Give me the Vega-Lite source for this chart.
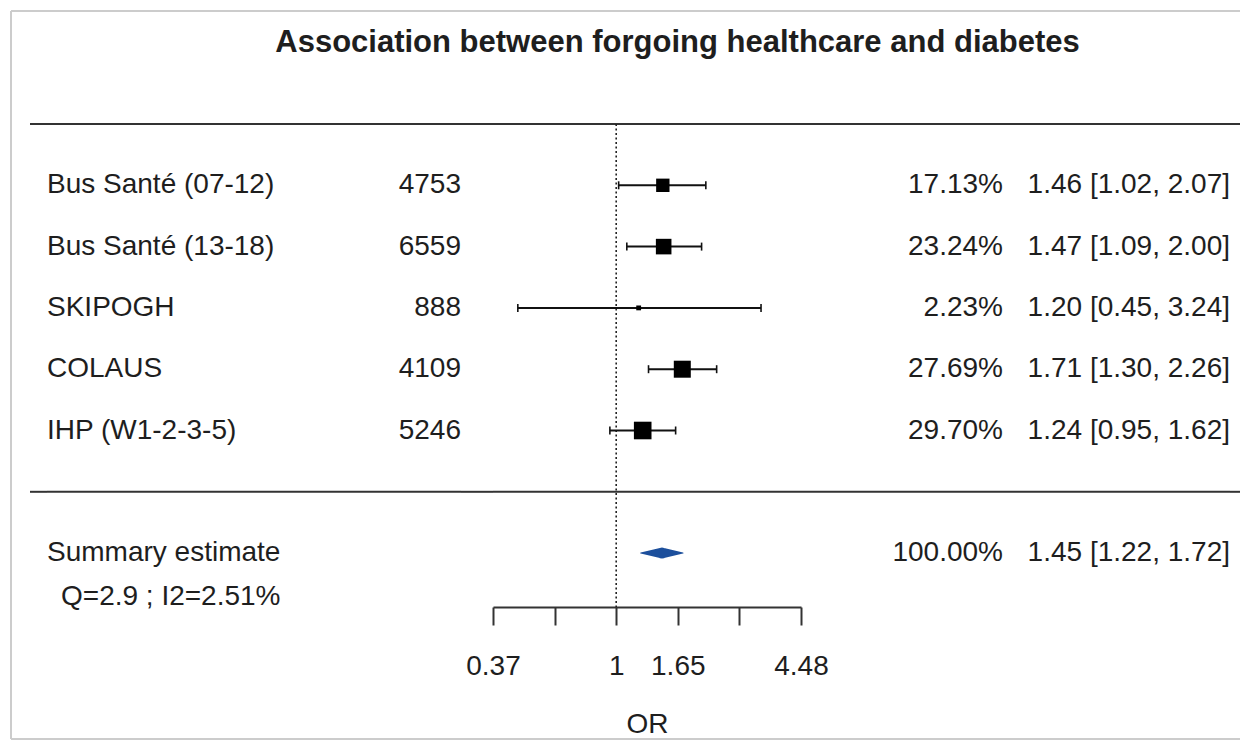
{
  "$schema": "https://vega.github.io/schema/vega-lite/v6.json",
  "autosize": {"type": "pad"},
  "padding": {"left": 10, "top": 10, "right": 0, "bottom": 0},
  "background": "white",
  "config": {
    "view": {"stroke": null},
    "font": "Liberation Sans",
    "text": {"font": "Liberation Sans", "fontSize": 28, "color": "#1e1e1e", "baseline": "middle"},
    "concat": {"spacing": 0}
  },
  "title": {
    "text": "Association between forgoing healthcare and diabetes",
    "font": "Liberation Sans",
    "fontSize": 31,
    "fontWeight": "bold",
    "color": "#1e1e1e",
    "anchor": "middle",
    "offset": -49,
    "dx": 52
  },
  "datasets": {
    "blank": [{}],
    "studies": [
      {"row": 1, "study": "Bus Santé (07-12)", "n": 4753, "weight": 0.1713, "or": 1.46, "lo": 1.02, "hi": 2.07, "ci": "1.46 [1.02, 2.07]"},
      {"row": 2, "study": "Bus Santé (13-18)", "n": 6559, "weight": 0.2324, "or": 1.47, "lo": 1.09, "hi": 2.00, "ci": "1.47 [1.09, 2.00]"},
      {"row": 3, "study": "SKIPOGH", "n": 888, "weight": 0.0223, "or": 1.20, "lo": 0.45, "hi": 3.24, "ci": "1.20 [0.45, 3.24]"},
      {"row": 4, "study": "COLAUS", "n": 4109, "weight": 0.2769, "or": 1.71, "lo": 1.30, "hi": 2.26, "ci": "1.71 [1.30, 2.26]"},
      {"row": 5, "study": "IHP (W1-2-3-5)", "n": 5246, "weight": 0.2970, "or": 1.24, "lo": 0.95, "hi": 1.62, "ci": "1.24 [0.95, 1.62]"}
    ],
    "summary": [
      {"row": 7, "study": "Summary estimate", "heterogeneity": "Q=2.9 ; I2=2.51%", "weight": 1.0, "or": 1.45, "lo": 1.22, "hi": 1.72, "ci": "1.45 [1.22, 1.72]"}
    ]
  },
  "bounds": "flush",
  "spacing": 0,
  "resolve": {"scale": {"x": "independent", "y": "independent"}},
  "hconcat": [
    {
      "width": 19, "height": 728,
      "data": {"name": "blank"},
      "layer": [
        {"mark": {"type": "rule", "color": "#cccccc", "strokeWidth": 2},
         "encoding": {"x": {"datum": "edge", "type": "nominal", "scale": {"type": "point", "domain": ["edge"], "padding": 0, "align": 0}, "axis": null}}},
        {"mark": {"type": "rule", "color": "#cccccc", "strokeWidth": 2},
         "encoding": {"y": {"datum": -1.8434, "type": "quantitative", "scale": {"domain": [-1.8434, 10.0326], "reverse": true, "nice": false, "zero": false}, "axis": null}}},
        {"mark": {"type": "rule", "color": "#cccccc", "strokeWidth": 2},
         "encoding": {"y": {"datum": 10.0326, "type": "quantitative", "scale": {"domain": [-1.8434, 10.0326], "reverse": true, "nice": false, "zero": false}, "axis": null}}}
      ]
    },
    {
      "width": 17, "height": 728,
      "data": {"name": "blank"},
      "layer": [
        {"mark": {"type": "rule", "color": "#cccccc", "strokeWidth": 2},
         "encoding": {"y": {"datum": -1.8434, "type": "quantitative", "scale": {"domain": [-1.8434, 10.0326], "reverse": true, "nice": false, "zero": false}, "axis": null}}},
        {"mark": {"type": "rule", "color": "#cccccc", "strokeWidth": 2},
         "encoding": {"y": {"datum": 10.0326, "type": "quantitative", "scale": {"domain": [-1.8434, 10.0326], "reverse": true, "nice": false, "zero": false}, "axis": null}}},
        {"mark": {"type": "rule", "color": "#333333", "strokeWidth": 2},
         "encoding": {"y": {"datum": 0, "type": "quantitative", "scale": {"domain": [-1.8434, 10.0326], "reverse": true, "nice": false, "zero": false}, "axis": null}}},
        {"mark": {"type": "rule", "color": "#333333", "strokeWidth": 2},
         "encoding": {"y": {"datum": 6, "type": "quantitative", "scale": {"domain": [-1.8434, 10.0326], "reverse": true, "nice": false, "zero": false}, "axis": null}}}
      ]
    },
    {
      "width": 414, "height": 728,
      "layer": [
        {"data": {"name": "blank"}, "mark": {"type": "rule", "color": "#cccccc", "strokeWidth": 2},
         "encoding": {"y": {"datum": -1.8434, "type": "quantitative", "scale": {"domain": [-1.8434, 10.0326], "reverse": true, "nice": false, "zero": false}, "axis": null}}},
        {"data": {"name": "blank"}, "mark": {"type": "rule", "color": "#cccccc", "strokeWidth": 2},
         "encoding": {"y": {"datum": 10.0326, "type": "quantitative", "scale": {"domain": [-1.8434, 10.0326], "reverse": true, "nice": false, "zero": false}, "axis": null}}},
        {"data": {"name": "blank"}, "mark": {"type": "rule", "color": "#333333", "strokeWidth": 2},
         "encoding": {"y": {"datum": 0, "type": "quantitative", "scale": {"domain": [-1.8434, 10.0326], "reverse": true, "nice": false, "zero": false}, "axis": null}}},
        {"data": {"name": "blank"}, "mark": {"type": "rule", "color": "#333333", "strokeWidth": 2},
         "encoding": {"y": {"datum": 6, "type": "quantitative", "scale": {"domain": [-1.8434, 10.0326], "reverse": true, "nice": false, "zero": false}, "axis": null}}},
        {"data": {"name": "studies"}, "mark": {"type": "text", "align": "left"},
         "encoding": {
           "x": {"datum": "Study", "type": "nominal", "scale": {"type": "point", "domain": ["Study", "N"], "padding": 0}, "axis": null},
           "y": {"field": "row", "type": "quantitative", "scale": {"domain": [-1.8434, 10.0326], "reverse": true, "nice": false, "zero": false}, "axis": null},
           "text": {"field": "study", "type": "nominal"}}},
        {"data": {"name": "studies"}, "mark": {"type": "text", "align": "right"},
         "encoding": {
           "x": {"datum": "N", "type": "nominal", "scale": {"type": "point", "domain": ["Study", "N"], "padding": 0}, "axis": null},
           "y": {"field": "row", "type": "quantitative", "scale": {"domain": [-1.8434, 10.0326], "reverse": true, "nice": false, "zero": false}, "axis": null},
           "text": {"field": "n", "type": "quantitative", "format": "d"}}},
        {"data": {"name": "summary"}, "mark": {"type": "text", "align": "left"},
         "encoding": {
           "x": {"datum": "Study", "type": "nominal", "scale": {"type": "point", "domain": ["Study", "N"], "padding": 0}, "axis": null},
           "y": {"field": "row", "type": "quantitative", "scale": {"domain": [-1.8434, 10.0326], "reverse": true, "nice": false, "zero": false}, "axis": null},
           "text": {"field": "study", "type": "nominal"}}},
        {"data": {"name": "summary"}, "mark": {"type": "text", "align": "left", "dx": 14, "dy": 44},
         "encoding": {
           "x": {"datum": "Study", "type": "nominal", "scale": {"type": "point", "domain": ["Study", "N"], "padding": 0}, "axis": null},
           "y": {"field": "row", "type": "quantitative", "scale": {"domain": [-1.8434, 10.0326], "reverse": true, "nice": false, "zero": false}, "axis": null},
           "text": {"field": "heterogeneity", "type": "nominal"}}}
      ]
    },
    {
      "width": 32, "height": 728,
      "data": {"name": "blank"},
      "layer": [
        {"mark": {"type": "rule", "color": "#cccccc", "strokeWidth": 2},
         "encoding": {"y": {"datum": -1.8434, "type": "quantitative", "scale": {"domain": [-1.8434, 10.0326], "reverse": true, "nice": false, "zero": false}, "axis": null}}},
        {"mark": {"type": "rule", "color": "#cccccc", "strokeWidth": 2},
         "encoding": {"y": {"datum": 10.0326, "type": "quantitative", "scale": {"domain": [-1.8434, 10.0326], "reverse": true, "nice": false, "zero": false}, "axis": null}}},
        {"mark": {"type": "rule", "color": "#333333", "strokeWidth": 2},
         "encoding": {"y": {"datum": 0, "type": "quantitative", "scale": {"domain": [-1.8434, 10.0326], "reverse": true, "nice": false, "zero": false}, "axis": null}}},
        {"mark": {"type": "rule", "color": "#333333", "strokeWidth": 2},
         "encoding": {"y": {"datum": 6, "type": "quantitative", "scale": {"domain": [-1.8434, 10.0326], "reverse": true, "nice": false, "zero": false}, "axis": null}}}
      ]
    },
    {
      "width": 308, "height": 728,
      "layer": [
        {"data": {"name": "blank"}, "mark": {"type": "rule", "color": "#cccccc", "strokeWidth": 2},
         "encoding": {"y": {"datum": -1.8434, "type": "quantitative", "scale": {"domain": [-1.8434, 10.0326], "reverse": true, "nice": false, "zero": false}, "axis": null}}},
        {"data": {"name": "blank"}, "mark": {"type": "rule", "color": "#cccccc", "strokeWidth": 2},
         "encoding": {"y": {"datum": 10.0326, "type": "quantitative", "scale": {"domain": [-1.8434, 10.0326], "reverse": true, "nice": false, "zero": false}, "axis": null}}},
        {"data": {"name": "blank"}, "mark": {"type": "rule", "color": "#333333", "strokeWidth": 2},
         "encoding": {"y": {"datum": 0, "type": "quantitative", "scale": {"domain": [-1.8434, 10.0326], "reverse": true, "nice": false, "zero": false}, "axis": null}}},
        {"data": {"name": "blank"}, "mark": {"type": "rule", "color": "#333333", "strokeWidth": 2},
         "encoding": {"y": {"datum": 6, "type": "quantitative", "scale": {"domain": [-1.8434, 10.0326], "reverse": true, "nice": false, "zero": false}, "axis": null}}},
        {"data": {"name": "blank"}, "mark": {"type": "rule", "color": "#222222", "strokeWidth": 1.6, "strokeDash": [2, 2.5]},
         "encoding": {
           "x": {"datum": 1, "type": "quantitative", "scale": {"type": "log", "domain": [0.367879, 4.481689], "nice": false, "zero": false}},
           "y": {"datum": 0, "type": "quantitative", "scale": {"domain": [-1.8434, 10.0326], "reverse": true, "nice": false, "zero": false}, "axis": null},
           "y2": {"datum": 7.88}}},
        {"data": {"name": "studies"}, "mark": {"type": "rule", "color": "#111111", "strokeWidth": 2},
         "encoding": {
           "x": {"field": "lo", "type": "quantitative", "scale": {"type": "log", "domain": [0.367879, 4.481689], "nice": false, "zero": false},
                 "axis": {"values": [0.367879, 0.606531, 1, 1.648721, 2.718282, 4.481689],
                          "labelExpr": "abs(datum.value-0.606531)<0.001 || abs(datum.value-2.718282)<0.001 ? '' : format(datum.value, '.2~f')",
                          "orient": "bottom", "offset": -132, "grid": false,
                          "domainColor": "#333333", "domainWidth": 2, "tickColor": "#333333", "tickWidth": 2, "tickSize": 18,
                          "labelFont": "Liberation Sans", "labelFontSize": 28, "labelColor": "#1e1e1e", "labelPadding": 27,
                          "labelFlush": false, "labelOverlap": false,
                          "title": "OR", "titleFont": "Liberation Sans", "titleFontSize": 28, "titleFontWeight": "normal", "titleColor": "#1e1e1e", "titlePadding": 30}},
           "x2": {"field": "hi"},
           "y": {"field": "row", "type": "quantitative", "scale": {"domain": [-1.8434, 10.0326], "reverse": true, "nice": false, "zero": false}, "axis": null}}},
        {"data": {"name": "studies"}, "mark": {"type": "tick", "orient": "vertical", "size": 8, "thickness": 1.6, "color": "#111111", "opacity": 1},
         "encoding": {
           "x": {"field": "lo", "type": "quantitative"},
           "y": {"field": "row", "type": "quantitative", "scale": {"domain": [-1.8434, 10.0326], "reverse": true, "nice": false, "zero": false}, "axis": null}}},
        {"data": {"name": "studies"}, "mark": {"type": "tick", "orient": "vertical", "size": 8, "thickness": 1.6, "color": "#111111", "opacity": 1},
         "encoding": {
           "x": {"field": "hi", "type": "quantitative"},
           "y": {"field": "row", "type": "quantitative", "scale": {"domain": [-1.8434, 10.0326], "reverse": true, "nice": false, "zero": false}, "axis": null}}},
        {"data": {"name": "studies"}, "mark": {"type": "point", "shape": "square", "filled": true, "color": "#000000", "opacity": 1},
         "encoding": {
           "x": {"field": "or", "type": "quantitative"},
           "y": {"field": "row", "type": "quantitative", "scale": {"domain": [-1.8434, 10.0326], "reverse": true, "nice": false, "zero": false}, "axis": null},
           "size": {"field": "weight", "type": "quantitative", "scale": {"type": "linear", "domain": [0, 0.297], "range": [0, 310]}, "legend": null}}},
        {"data": {"name": "summary"},
         "transform": [{"fold": ["lo", "or", "hi"], "as": ["point", "value"]}],
         "mark": {"type": "trail", "color": "#1c4f9c"},
         "encoding": {
           "x": {"field": "value", "type": "quantitative"},
           "y": {"field": "row", "type": "quantitative", "scale": {"domain": [-1.8434, 10.0326], "reverse": true, "nice": false, "zero": false}, "axis": null},
           "size": {"condition": {"test": "datum.point == 'or'", "value": 11}, "value": 0}}}
      ]
    },
    {
      "width": 202, "height": 728,
      "layer": [
        {"data": {"name": "blank"}, "mark": {"type": "rule", "color": "#cccccc", "strokeWidth": 2},
         "encoding": {"y": {"datum": -1.8434, "type": "quantitative", "scale": {"domain": [-1.8434, 10.0326], "reverse": true, "nice": false, "zero": false}, "axis": null}}},
        {"data": {"name": "blank"}, "mark": {"type": "rule", "color": "#cccccc", "strokeWidth": 2},
         "encoding": {"y": {"datum": 10.0326, "type": "quantitative", "scale": {"domain": [-1.8434, 10.0326], "reverse": true, "nice": false, "zero": false}, "axis": null}}},
        {"data": {"name": "blank"}, "mark": {"type": "rule", "color": "#333333", "strokeWidth": 2},
         "encoding": {"y": {"datum": 0, "type": "quantitative", "scale": {"domain": [-1.8434, 10.0326], "reverse": true, "nice": false, "zero": false}, "axis": null}}},
        {"data": {"name": "blank"}, "mark": {"type": "rule", "color": "#333333", "strokeWidth": 2},
         "encoding": {"y": {"datum": 6, "type": "quantitative", "scale": {"domain": [-1.8434, 10.0326], "reverse": true, "nice": false, "zero": false}, "axis": null}}},
        {"data": {"name": "studies"}, "mark": {"type": "text", "align": "right"},
         "encoding": {
           "x": {"datum": "Weight", "type": "nominal", "scale": {"type": "point", "domain": ["Weight"], "padding": 0, "align": 1}, "axis": null},
           "y": {"field": "row", "type": "quantitative", "scale": {"domain": [-1.8434, 10.0326], "reverse": true, "nice": false, "zero": false}, "axis": null},
           "text": {"field": "weight", "type": "quantitative", "format": ".2%"}}},
        {"data": {"name": "summary"}, "mark": {"type": "text", "align": "right"},
         "encoding": {
           "x": {"datum": "Weight", "type": "nominal", "scale": {"type": "point", "domain": ["Weight"], "padding": 0, "align": 1}, "axis": null},
           "y": {"field": "row", "type": "quantitative", "scale": {"domain": [-1.8434, 10.0326], "reverse": true, "nice": false, "zero": false}, "axis": null},
           "text": {"field": "weight", "type": "quantitative", "format": ".2%"}}}
      ]
    },
    {
      "width": 227, "height": 728,
      "layer": [
        {"data": {"name": "blank"}, "mark": {"type": "rule", "color": "#cccccc", "strokeWidth": 2},
         "encoding": {"y": {"datum": -1.8434, "type": "quantitative", "scale": {"domain": [-1.8434, 10.0326], "reverse": true, "nice": false, "zero": false}, "axis": null}}},
        {"data": {"name": "blank"}, "mark": {"type": "rule", "color": "#cccccc", "strokeWidth": 2},
         "encoding": {"y": {"datum": 10.0326, "type": "quantitative", "scale": {"domain": [-1.8434, 10.0326], "reverse": true, "nice": false, "zero": false}, "axis": null}}},
        {"data": {"name": "blank"}, "mark": {"type": "rule", "color": "#333333", "strokeWidth": 2},
         "encoding": {"y": {"datum": 0, "type": "quantitative", "scale": {"domain": [-1.8434, 10.0326], "reverse": true, "nice": false, "zero": false}, "axis": null}}},
        {"data": {"name": "blank"}, "mark": {"type": "rule", "color": "#333333", "strokeWidth": 2},
         "encoding": {"y": {"datum": 6, "type": "quantitative", "scale": {"domain": [-1.8434, 10.0326], "reverse": true, "nice": false, "zero": false}, "axis": null}}},
        {"data": {"name": "studies"}, "mark": {"type": "text", "align": "right"},
         "encoding": {
           "x": {"datum": "Estimate", "type": "nominal", "scale": {"type": "point", "domain": ["Estimate"], "padding": 0, "align": 1}, "axis": null},
           "y": {"field": "row", "type": "quantitative", "scale": {"domain": [-1.8434, 10.0326], "reverse": true, "nice": false, "zero": false}, "axis": null},
           "text": {"field": "ci", "type": "nominal"}}},
        {"data": {"name": "summary"}, "mark": {"type": "text", "align": "right"},
         "encoding": {
           "x": {"datum": "Estimate", "type": "nominal", "scale": {"type": "point", "domain": ["Estimate"], "padding": 0, "align": 1}, "axis": null},
           "y": {"field": "row", "type": "quantitative", "scale": {"domain": [-1.8434, 10.0326], "reverse": true, "nice": false, "zero": false}, "axis": null},
           "text": {"field": "ci", "type": "nominal"}}}
      ]
    },
    {
      "width": 10, "height": 728,
      "data": {"name": "blank"},
      "layer": [
        {"mark": {"type": "rule", "color": "#cccccc", "strokeWidth": 2},
         "encoding": {"y": {"datum": -1.8434, "type": "quantitative", "scale": {"domain": [-1.8434, 10.0326], "reverse": true, "nice": false, "zero": false}, "axis": null}}},
        {"mark": {"type": "rule", "color": "#cccccc", "strokeWidth": 2},
         "encoding": {"y": {"datum": 10.0326, "type": "quantitative", "scale": {"domain": [-1.8434, 10.0326], "reverse": true, "nice": false, "zero": false}, "axis": null}}},
        {"mark": {"type": "rule", "color": "#333333", "strokeWidth": 2},
         "encoding": {"y": {"datum": 0, "type": "quantitative", "scale": {"domain": [-1.8434, 10.0326], "reverse": true, "nice": false, "zero": false}, "axis": null}}},
        {"mark": {"type": "rule", "color": "#333333", "strokeWidth": 2},
         "encoding": {"y": {"datum": 6, "type": "quantitative", "scale": {"domain": [-1.8434, 10.0326], "reverse": true, "nice": false, "zero": false}, "axis": null}}}
      ]
    }
  ]
}
